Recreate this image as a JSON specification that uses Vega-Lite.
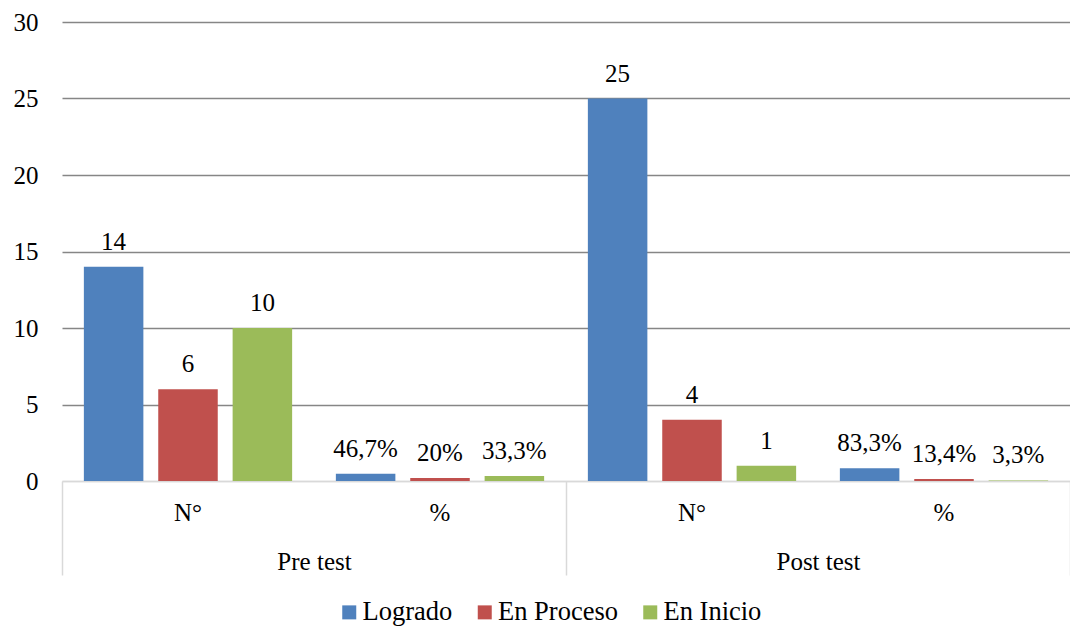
{
  "$schema": "https://vega.github.io/schema/vega-lite/v6.json",
  "width": 1008,
  "height": 459,
  "autosize": "none",
  "padding": {"left": 62, "top": 22, "right": 0, "bottom": 145},
  "background": "white",
  "config": {
    "view": {"stroke": null},
    "font": "Liberation Serif",
    "axis": {"labelFont": "Liberation Serif", "labelFontSize": 25, "labelColor": "black", "title": null},
    "legend": {
      "orient": "none", "legendX": 274, "legendY": 577, "direction": "horizontal",
      "symbolType": "square", "symbolSize": 196, "symbolStrokeWidth": 0,
      "labelFont": "Liberation Serif", "labelFontSize": 26.5, "labelColor": "black",
      "columnPadding": 18.5, "labelOffset": 0, "title": null, "padding": 0
    }
  },
  "data": {
    "values": [
      {"test": "Pre test", "group": "Pre test|N°", "serie": "Logrado", "value": 14, "label": "14"},
      {"test": "Pre test", "group": "Pre test|N°", "serie": "En Proceso", "value": 6, "label": "6"},
      {"test": "Pre test", "group": "Pre test|N°", "serie": "En Inicio", "value": 10, "label": "10"},
      {"test": "Pre test", "group": "Pre test|%", "serie": "Logrado", "value": 0.467, "label": "46,7%"},
      {"test": "Pre test", "group": "Pre test|%", "serie": "En Proceso", "value": 0.2, "label": "20%"},
      {"test": "Pre test", "group": "Pre test|%", "serie": "En Inicio", "value": 0.333, "label": "33,3%"},
      {"test": "Post test", "group": "Post test|N°", "serie": "Logrado", "value": 25, "label": "25"},
      {"test": "Post test", "group": "Post test|N°", "serie": "En Proceso", "value": 4, "label": "4"},
      {"test": "Post test", "group": "Post test|N°", "serie": "En Inicio", "value": 1, "label": "1"},
      {"test": "Post test", "group": "Post test|%", "serie": "Logrado", "value": 0.833, "label": "83,3%"},
      {"test": "Post test", "group": "Post test|%", "serie": "En Proceso", "value": 0.134, "label": "13,4%"},
      {"test": "Post test", "group": "Post test|%", "serie": "En Inicio", "value": 0.033, "label": "3,3%"}
    ]
  },
  "resolve": {"scale": {"x": "independent"}},
  "layer": [
    {
      "layer": [
        {
          "mark": {"type": "bar"},
          "encoding": {
            "x": {
              "field": "group", "type": "nominal",
              "sort": ["Pre test|N°", "Pre test|%", "Post test|N°", "Post test|%"],
              "scale": {"paddingInner": 0, "paddingOuter": 0},
              "axis": {
                "orient": "bottom", "labelExpr": "split(datum.label, '|')[1]", "labelAngle": 0,
                "ticks": false, "domain": true, "domainColor": "#D9D9D9", "domainWidth": 1.5,
                "labelPadding": 19, "grid": false
              }
            },
            "xOffset": {
              "field": "serie", "type": "nominal",
              "sort": ["Logrado", "En Proceso", "En Inicio"],
              "scale": {"paddingInner": 0.2, "paddingOuter": 0.294}
            },
            "y": {
              "field": "value", "type": "quantitative",
              "scale": {"domain": [0, 30], "nice": false},
              "axis": {
                "values": [0, 5, 10, 15, 20, 25, 30], "domain": false, "ticks": false,
                "labelPadding": 24, "grid": true, "gridWidth": 1.3,
                "gridColor": {"condition": {"test": "datum.value == 0", "value": "#D9D9D9"}, "value": "#868686"}
              }
            },
            "color": {
              "field": "serie", "type": "nominal",
              "sort": ["Logrado", "En Proceso", "En Inicio"],
              "scale": {"domain": ["Logrado", "En Proceso", "En Inicio"], "range": ["#4F81BD", "#C0504D", "#9BBB59"]}
            }
          }
        },
        {
          "mark": {"type": "text", "baseline": "alphabetic", "align": "center", "dy": -17, "fontSize": 25, "font": "Liberation Serif", "color": "black"},
          "encoding": {
            "x": {"field": "group", "type": "nominal", "sort": ["Pre test|N°", "Pre test|%", "Post test|N°", "Post test|%"]},
            "xOffset": {"field": "serie", "type": "nominal", "sort": ["Logrado", "En Proceso", "En Inicio"]},
            "y": {"field": "value", "type": "quantitative"},
            "text": {"field": "label"}
          }
        }
      ]
    },
    {
      "mark": {"type": "rule", "opacity": 0},
      "encoding": {
        "x": {
          "field": "test", "type": "nominal",
          "sort": ["Pre test", "Post test"],
          "scale": {"paddingInner": 0, "paddingOuter": 0},
          "axis": {
            "orient": "bottom", "domain": false, "ticks": true, "tickBand": "extent",
            "tickSize": 94, "tickColor": "#D9D9D9", "tickWidth": 1.5,
            "labelPadding": -26, "labelAngle": 0, "grid": false
          }
        }
      }
    }
  ]
}
